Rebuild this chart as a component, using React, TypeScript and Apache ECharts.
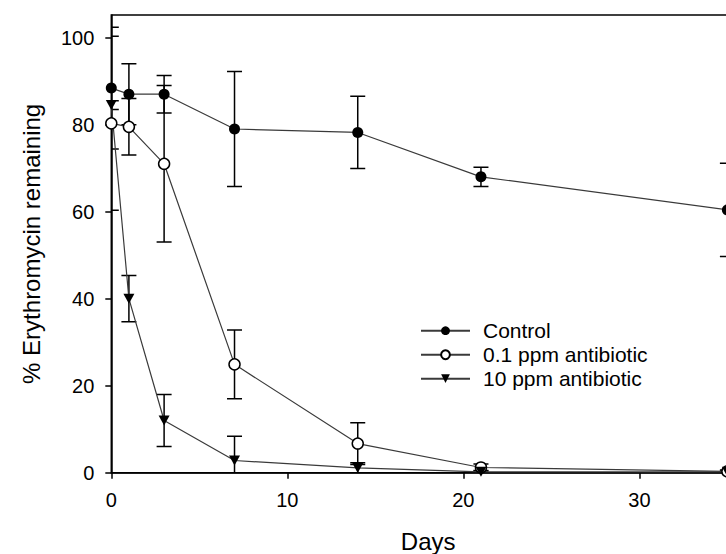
import React, { useEffect, useRef } from "react";
import * as echarts from "echarts";

const days = [0, 1, 3, 7, 14, 21, 35];
const seriesNames = ["Control", "0.1 ppm antibiotic", "10 ppm antibiotic"];
const control = [88.4, 87, 87, 79, 78.2, 68, 60.4];
const controlErr = [14, 7, 4.3, 13.2, 8.3, 2.2, 10.7];
const lowDose = [80.3, 79.5, 71, 24.9, 6.7, 1.2, 0.3];
const lowDoseErr = [20, 6.5, 18, 7.9, 4.8, 0.8, 0.3];
const highDose = [84.5, 40, 12, 2.8, 1.1, 0.2, 0.2];
const highDoseErr = [1, 5.3, 6, 5.6, 1.2, 0.3, 0.2];
const xTicks = [0, 10, 20, 30];
const yTicks = [0, 20, 40, 60, 80, 100];

const FONT = "'Liberation Sans', Arial, sans-serif";
const X_MAX = 36;
const Y_MAX = 105.2;

function errorSeries(id: string, values: number[], errs: number[]) {
  return {
    type: "custom",
    id,
    silent: true,
    clip: true,
    z: 1,
    data: days.map((d, i) => [d, values[i] - errs[i], values[i] + errs[i]]),
    renderItem: (_params: any, api: any) => {
      const x = api.value(0);
      const lo = api.value(1);
      const hi = api.value(2);
      const pLo = api.coord([x, lo]);
      const pHi = api.coord([x, hi]);
      const w = 7.5;
      const style = { stroke: "#000", lineWidth: 1.5 };
      return {
        type: "group",
        children: [
          { type: "line", shape: { x1: pLo[0], y1: pLo[1], x2: pHi[0], y2: pHi[1] }, style },
          { type: "line", shape: { x1: pHi[0] - w, y1: pHi[1], x2: pHi[0] + w, y2: pHi[1] }, style },
          { type: "line", shape: { x1: pLo[0] - w, y1: pLo[1], x2: pLo[0] + w, y2: pLo[1] }, style },
        ],
      };
    },
  };
}

function lineSeries(name: string, values: number[], symbol: string, fill: string) {
  return {
    type: "line",
    name,
    data: days.map((d, i) => [d, values[i]]),
    symbol,
    symbolSize: symbol.startsWith("path") ? [11, 10] : 11,
    showAllSymbol: true,
    clip: false,
    z: 3,
    lineStyle: { color: "#3a3a3a", width: 1.2 },
    itemStyle: { color: fill, borderColor: "#000", borderWidth: fill === "#fff" ? 1.5 : 0 },
    emphasis: { disabled: true },
  };
}

export default function App() {
  const ref = useRef<HTMLDivElement>(null);
  useEffect(() => {
    if (!ref.current) return;
    const chart = echarts.init(ref.current, undefined, { renderer: "svg" });
    chart.setOption({
      animation: false,
      backgroundColor: "#fff",
      textStyle: { fontFamily: FONT },
      grid: {
        left: 111.3,
        top: 15,
        bottom: 81.3,
        right: -19,
        outerBoundsMode: "none",
        containLabel: false,
        show: true,
        borderColor: "#000",
        borderWidth: 1.5,
        backgroundColor: "transparent",
      },
      legend: {
        data: seriesNames,
        orient: "vertical",
        left: 420,
        top: 318.7,
        itemWidth: 49,
        itemHeight: 11,
        itemGap: 0,
        padding: 0,
        selectedMode: false,
        textStyle: { fontSize: 21, color: "#000", lineHeight: 24, padding: [0, 0, 0, 8], fontFamily: FONT },
      },
      xAxis: {
        type: "value",
        min: 0,
        max: X_MAX,
        interval: 10,
        name: "Days",
        nameLocation: "middle",
        nameGap: 57,
        nameTextStyle: { fontSize: 24, color: "#000", fontFamily: FONT },
        axisLine: { show: true, lineStyle: { color: "#000", width: 1.5 } },
        axisTick: { show: true, length: 6, lineStyle: { color: "#000", width: 1.5 } },
        axisLabel: {
          fontSize: 20,
          color: "#000",
          margin: 17,
          showMaxLabel: false,
          formatter: (v: number) => (xTicks.includes(v) ? String(v) : ""),
        },
        splitLine: { show: false },
      },
      yAxis: {
        type: "value",
        min: 0,
        max: Y_MAX,
        interval: 20,
        name: "% Erythromycin remaining",
        nameLocation: "middle",
        nameGap: 68,
        nameTextStyle: { fontSize: 24, color: "#000", fontFamily: FONT },
        axisLine: { show: true, lineStyle: { color: "#000", width: 1.5 } },
        axisTick: { show: true, length: 6, lineStyle: { color: "#000", width: 1.5 } },
        axisLabel: {
          fontSize: 20,
          color: "#000",
          margin: 17,
          showMaxLabel: false,
          formatter: (v: number) => (yTicks.includes(v) ? String(v) : ""),
        },
        splitLine: { show: false },
      },
      series: [
        errorSeries("errControl", control, controlErr),
        errorSeries("errLow", lowDose, lowDoseErr),
        errorSeries("errHigh", highDose, highDoseErr),
        lineSeries(seriesNames[0], control, "circle", "#000"),
        lineSeries(seriesNames[1], lowDose, "circle", "#fff"),
        lineSeries(seriesNames[2], highDose, "path://M0,0L10,0L5,9Z", "#000"),
      ],
    });
    return () => chart.dispose();
  }, []);
  return (
    <div
      ref={ref}
      style={{ position: "absolute", left: 0, top: 0, width: 726, height: 554, background: "#fff" }}
    />
  );
}
